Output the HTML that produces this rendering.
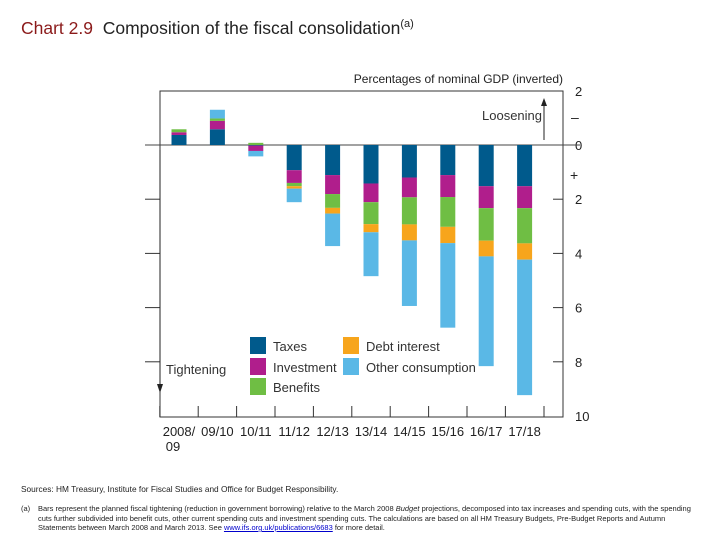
<!DOCTYPE html>
<html><head><meta charset="utf-8"><style>
body{margin:0;width:720px;height:540px;background:#fff;font-family:"Liberation Sans",sans-serif;overflow:hidden}
.note{position:absolute;font-size:7.5px;color:#222;line-height:9.5px}
</style></head><body>
<div style="position:absolute;left:21px;top:18px;font-size:17.5px;color:#222;white-space:nowrap"><span style="color:#8b1a1a">Chart 2.9</span>&nbsp; Composition of the fiscal consolidation<sup style="font-size:11px">(a)</sup></div>
<svg id="chart" width="720" height="480" style="position:absolute;left:0;top:0" font-family="Liberation Sans, sans-serif"></svg>
<div class="note" style="left:21px;top:485px;font-size:8.3px">Sources: HM Treasury, Institute for Fiscal Studies and Office for Budget Responsibility.</div>
<div class="note" style="left:21px;top:504px;width:680px"><span style="position:absolute;left:0">(a)</span><div style="margin-left:17px">Bars represent the planned fiscal tightening (reduction in government borrowing) relative to the March 2008 <i>Budget</i> projections, decomposed into tax increases and spending cuts, with the spending cuts further subdivided into benefit cuts, other current spending cuts and investment spending cuts. The calculations are based on all HM Treasury Budgets, Pre-Budget Reports and Autumn Statements between March 2008 and March 2013. See <u style="color:#00c">www.ifs.org.uk/publications/6683</u> for more detail.</div></div>
<script>
const categories=["2008/09","09/10","10/11","11/12","12/13","13/14","14/15","15/16","16/17","17/18"];
const taxes=[-0.37,-0.58,0.02,0.93,1.11,1.42,1.2,1.11,1.52,1.52];
const investment=[-0.1,-0.31,0.2,0.47,0.7,0.69,0.73,0.81,0.81,0.81];
const benefits=[-0.11,-0.09,-0.08,0.12,0.51,0.81,1.0,1.1,1.2,1.3];
const debtInterest=[0,0,0,0.09,0.21,0.3,0.59,0.6,0.58,0.6];
const otherConsumption=[0,-0.32,0.2,0.5,1.2,1.62,2.42,3.12,4.05,5.0];
const yTicks=[2,0,2,4,6,8,10];
const yTickVals=[-2,0,2,4,6,8,10];
const series=[["taxes",taxes,"#005a8c"],["investment",investment,"#b01e8c"],["benefits",benefits,"#6fbe44"],["debt-interest",debtInterest,"#f7a51c"],["other-consumption",otherConsumption,"#5ab8e6"]];
const svg=document.getElementById('chart');const NS="http://www.w3.org/2000/svg";
const L=160,R=563,T=91,B=417;
const y=v=>145+v*27.1;
const x=i=>179+i*38.4;
function el(t,a,txt){const e=document.createElementNS(NS,t);for(const k in a)e.setAttribute(k,a[k]);if(txt!=null)e.textContent=txt;svg.appendChild(e);return e;}
let e=el('rect',{x:L,y:T,width:R-L,height:B-T,fill:'none',stroke:'#333','stroke-width':1});

yTickVals.forEach((v,i)=>{
 if(v!==0&&v>-2&&v<10){let a=el('line',{x1:145,x2:L,y1:y(v),y2:y(v),stroke:'#333'});
 let b=el('line',{x1:R-10,x2:R,y1:y(v),y2:y(v),stroke:'#333'});}
 let t=el('text',{x:575,y:y(v)+5,'font-size':13,fill:'#222'},yTicks[i]);
});
e=el('line',{x1:145,x2:580,y1:y(0),y2:y(0),stroke:'#444'});
e=el('text',{x:571,y:122,'font-size':14,fill:'#222'},'–');
e=el('text',{x:570,y:180,'font-size':14,fill:'#222'},'+');
e=el('text',{x:563,y:83,'font-size':12,fill:'#222','text-anchor':'end'},'Percentages of nominal GDP (inverted)');
categories.forEach((c,i)=>{
 let tk=el('line',{x1:x(i)-19.2,x2:x(i)-19.2,y1:B-11,y2:B,stroke:'#333'});
 let pos=0,neg=0;
 series.forEach(([n,arr,col])=>{const v=arr[i];if(!v)return;let y0,y1;
  if(v>0){y0=pos;pos+=v;y1=pos;}else{y0=neg;neg+=v;y1=neg;}
  let r=el('rect',{x:x(i)-7.5,width:15,y:Math.min(y(y0),y(y1)),height:Math.abs(y(y1)-y(y0)),fill:col});
  });
 let t=el('text',{x:x(i),y:436,'font-size':13,fill:'#222','text-anchor':'middle'},i===0?'2008/':c);
 if(i===0){let t2=el('text',{x:x(i)-6,y:451,'font-size':13,fill:'#222','text-anchor':'middle'},'09');}
});
e=el('line',{x1:R-19,x2:R-19,y1:B-11,y2:B,stroke:'#333'});
e=el('line',{x1:160,x2:160,y1:150,y2:385,stroke:'#222'});
e=el('polygon',{points:'157,384 163,384 160,393',fill:'#222'});
e=el('text',{x:166,y:374,'font-size':13,fill:'#333'},'Tightening');
e=el('line',{x1:544,x2:544,y1:104,y2:140,stroke:'#222'});
e=el('polygon',{points:'541,106 547,106 544,98',fill:'#222'});
e=el('text',{x:482,y:120,'font-size':13,fill:'#333'},'Loosening');
const leg=[["Taxes","#005a8c",250,337],["Investment","#b01e8c",250,358],["Benefits","#6fbe44",250,378],["Debt interest","#f7a51c",343,337],["Other consumption","#5ab8e6",343,358]];
leg.forEach(([n,c,lx,ly])=>{let r=el('rect',{x:lx,y:ly,width:16,height:17,fill:c});
 let t=el('text',{x:lx+23,y:ly+14,'font-size':13,fill:'#333'},n);});
</script>
</body></html>
